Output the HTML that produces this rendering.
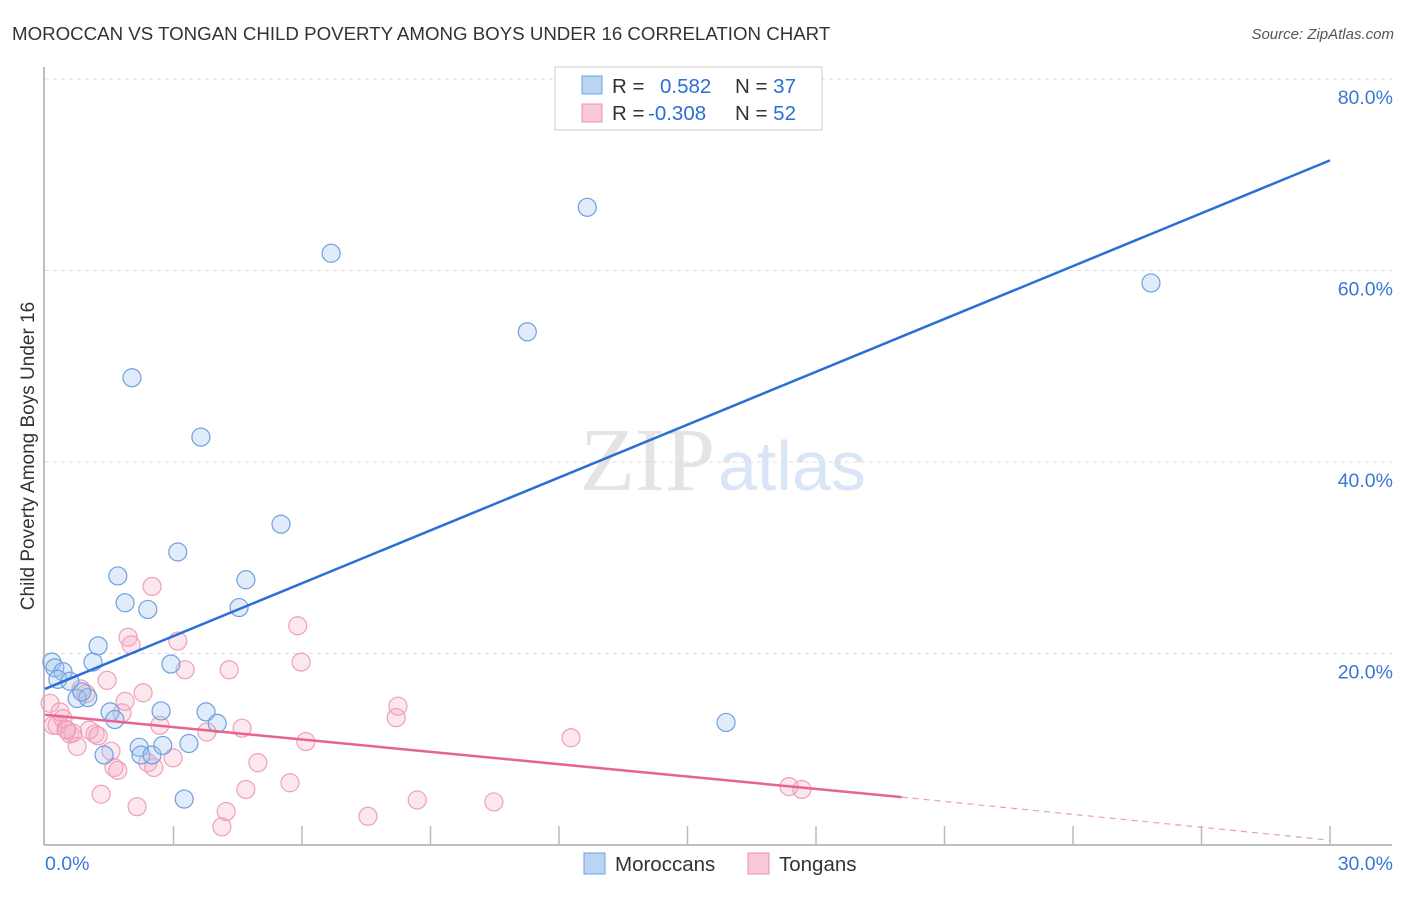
<!DOCTYPE html>
<html><head><meta charset="utf-8"><style>
body{margin:0;background:#fff;font-family:"Liberation Sans",sans-serif;}
</style></head><body>
<svg width="1406" height="892" xmlns="http://www.w3.org/2000/svg">
<text x="12" y="40" font-size="18.7" fill="#333">MOROCCAN VS TONGAN CHILD POVERTY AMONG BOYS UNDER 16 CORRELATION CHART</text>
<text x="1394" y="39" font-size="15" fill="#555" text-anchor="end" font-style="italic">Source: ZipAtlas.com</text>
<text x="34" y="456" font-size="19" fill="#333" text-anchor="middle" transform="rotate(-90 34 456)">Child Poverty Among Boys Under 16</text>
<text x="715" y="490" font-size="90" fill="#e4e4e4" text-anchor="end" font-family="Liberation Serif">ZIP</text>
<text x="718" y="490" font-size="70" fill="#d8e6f6">atlas</text>
<g id="grid"></g>
<g id="axes"></g>
<g id="pts"></g>
<g id="lines"></g>
<rect x="555" y="67" width="267" height="63" fill="#fff" stroke="#ccc"/>
<rect x="582" y="76" width="20" height="18" fill="#b9d4f5" stroke="#6f9fe0"/>
<rect x="582" y="104" width="20" height="18" fill="#f9c9d7" stroke="#ec8fab"/>
<text x="612" y="93" font-size="20.5" fill="#333">R = <tspan fill="#2a6fd6" x="660">0.582</tspan><tspan fill="#333" x="735">N = </tspan><tspan fill="#2a6fd6">37</tspan></text>
<text x="612" y="120" font-size="20.5" fill="#333">R = <tspan fill="#2a6fd6" x="648">-0.308</tspan><tspan fill="#333" x="735">N = </tspan><tspan fill="#2a6fd6">52</tspan></text>
<rect x="584" y="853" width="21" height="21" fill="#b9d4f5" stroke="#6f9fe0"/>
<text x="615" y="871" font-size="20.5" fill="#333">Moroccans</text>
<rect x="748" y="853" width="21" height="21" fill="#f9c9d7" stroke="#ec8fab"/>
<text x="779" y="871" font-size="20.5" fill="#333">Tongans</text>
</svg>
<script>
const yTicks=[20,40,60,80];
const yTickLabels=["20.0%","40.0%","60.0%","80.0%"];
const xTicks=[0,3,6,9,12,15,18,21,24,27,30];
const moroccansX=[0.16,0.23,0.42,0.30,0.58,0.75,1.0,0.86,1.12,1.24,1.38,1.52,1.63,1.70,1.87,2.03,2.20,2.24,2.40,2.50,2.71,2.75,2.94,3.10,3.25,3.36,3.64,3.76,4.02,4.53,4.69,5.51,6.68,11.26,12.66,15.9,25.82];
const moroccansY=[19.1,18.5,18.1,17.3,17.1,15.3,15.4,16.0,19.1,20.8,9.4,13.9,13.1,28.1,25.3,48.8,10.2,9.4,24.6,9.4,14.0,10.4,18.9,30.6,4.8,10.6,42.6,13.9,12.7,24.8,27.7,33.5,61.8,53.6,66.6,12.8,58.7];
const tongansX=[0.12,0.19,0.28,0.42,0.49,0.58,0.65,0.75,0.84,0.96,1.03,1.17,1.24,1.31,1.45,1.54,1.61,1.70,1.80,1.87,1.94,2.01,2.15,2.29,2.40,2.50,2.54,2.68,2.99,3.10,3.27,3.78,4.13,4.23,4.30,4.60,4.69,4.97,5.72,5.90,5.98,6.09,7.54,8.20,8.24,8.69,10.48,12.28,17.37,17.67,0.35,0.51];
const tongansY=[14.8,12.5,12.5,13.2,12.1,11.6,11.7,10.3,16.3,15.8,12.0,11.6,11.4,5.3,17.2,9.8,8.1,7.8,13.8,15.0,21.7,20.9,4.0,15.9,8.6,27.0,8.1,12.5,9.1,21.3,18.3,11.8,1.9,3.5,18.3,12.2,5.8,8.6,6.5,22.9,19.1,10.8,3.0,13.3,14.5,4.7,4.5,11.2,6.1,5.8,13.9,12.0];
const blueFit=[0,16.3,30,71.5];
const pinkFit=[0,13.6,20,5.0,30,0.5];
const X0=45,X1=1330,Y0=845,YS=191.5/20;
const xs=v=>X0+(X1-X0)*v/30, ys=v=>Y0-v*YS;
const NS="http://www.w3.org/2000/svg";
function mk(tag,attrs,parent){const e=document.createElementNS(NS,tag);for(const k in attrs)e.setAttribute(k,attrs[k]);document.getElementById(parent).appendChild(e);return e;}
yTicks.forEach((t,i)=>{
 const l=mk('line',{x1:45,x2:1392,y1:ys(t),y2:ys(t),stroke:'#ddd','stroke-dasharray':'4,4'},'grid');
 
 
 const tx=mk('text',{x:1393,y:ys(t)+25,'font-size':19.5,fill:'#3a78d4','text-anchor':'end'},'grid');
 tx.textContent=yTickLabels[i];
 
 
});
let a=mk('line',{x1:44,x2:44,y1:67,y2:845,stroke:'#aaa','stroke-width':1.5},'axes');


a=mk('line',{x1:44,x2:1392,y1:845,y2:845,stroke:'#aaa','stroke-width':1.5},'axes');


xTicks.forEach(t=>{if(t===0)return;const l=mk('line',{x1:xs(t),x2:xs(t),y1:826,y2:845,stroke:'#bbb','stroke-width':1.5},'axes');
 
 });
let t0=mk('text',{x:45,y:870,'font-size':19.5,fill:'#3a78d4'},'axes');t0.textContent='0.0%';


t0=mk('text',{x:1393,y:870,'font-size':19.5,fill:'#3a78d4','text-anchor':'end'},'axes');t0.textContent='30.0%';


tongansX.forEach((v,i)=>{const c=mk('circle',{cx:xs(v),cy:ys(tongansY[i]),r:9,fill:'rgba(246,170,195,0.28)',stroke:'#efa0b8','stroke-width':1.2},'pts');
 
 });
moroccansX.forEach((v,i)=>{const c=mk('circle',{cx:xs(v),cy:ys(moroccansY[i]),r:9,fill:'rgba(160,196,240,0.32)',stroke:'#6f9fe0','stroke-width':1.2},'pts');
 
 });
let ln=mk('line',{x1:xs(blueFit[0]),y1:ys(blueFit[1]),x2:xs(blueFit[2]),y2:ys(blueFit[3]),stroke:'#2a6fd6','stroke-width':2.5},'lines');


ln=mk('line',{x1:xs(pinkFit[0]),y1:ys(pinkFit[1]),x2:xs(pinkFit[2]),y2:ys(pinkFit[3]),stroke:'#e8648e','stroke-width':2.5},'lines');


ln=mk('line',{x1:xs(pinkFit[2]),y1:ys(pinkFit[3]),x2:xs(pinkFit[4]),y2:ys(pinkFit[5]),stroke:'#e8a0b6','stroke-width':1.2,'stroke-dasharray':'6,5'},'lines');


</script>
</body></html>
